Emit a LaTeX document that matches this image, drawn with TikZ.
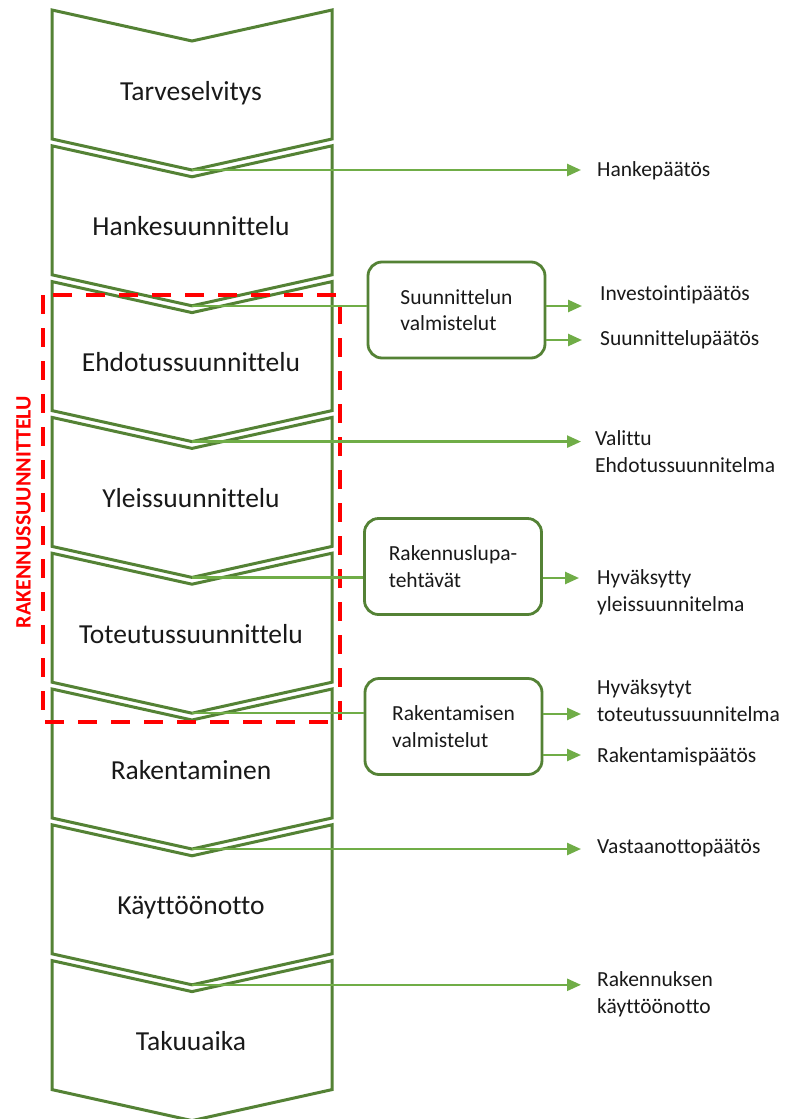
\documentclass[tikz,border=0pt]{standalone}
\usepackage{fontspec}
\setmainfont{Carlito}[Ligatures=NoCommon]
\usetikzlibrary{arrows.meta}
\definecolor{chev}{RGB}{84,130,53}
\definecolor{flow}{RGB}{112,173,71}
\definecolor{txt}{RGB}{25,25,25}
\definecolor{frame}{RGB}{255,0,0}

\begin{document}
\begin{tikzpicture}[x=1pt,y=-1pt,
  chevron/.style={draw=chev, line width=3pt, fill=white, line join=miter},
  phase/.style={font=\fontsize{27.5}{33}\selectfont, text=txt, anchor=base, inner sep=0pt},
  prep/.style={draw=chev, line width=2.8pt, rounded corners=14pt, minimum width=177pt,
    minimum height=96pt, align=left, font=\fontsize{21.5}{26.5}\selectfont, text=txt, fill=white},
  result/.style={font=\fontsize{21.5}{26.5}\selectfont, text=txt, anchor=base west,
    inner sep=0pt, align=left},
  link/.style={draw=flow, line width=2.5pt},
  arr/.style={link, -{Triangle[length=14pt,width=12pt]}},
]
\path[use as bounding box, fill=white] (0,0) rectangle (786,1119);

% the eight phases, stacked
\foreach \name/\t/\lab in {
  c1/10/Tarveselvitys,
  c2/145.8/Hankesuunnittelu,
  c3/281.6/Ehdotussuunnittelu,
  c4/417.4/Yleissuunnittelu,
  c5/553.2/Toteutussuunnittelu,
  c6/689/Rakentaminen,
  c7/824.8/Käyttöönotto,
  c8/960.6/Takuuaika} {
  \draw[chevron] (52,\t) -- (192,\t+31) -- (332,\t) -- (332,\t+129)
    -- (192,\t+160) -- (52,\t+129) -- cycle;
  \node[phase] (\name) at (191,\t+90) {\lab};
  \coordinate (\name-tip) at (192,\t+160);
}

% design stage frame
\draw[frame, line width=4.5pt, dash pattern=on 19pt off 14pt] (43,295) rectangle (340,722);
\node[rotate=90, text=frame, inner sep=0pt, font=\bfseries\fontsize{22}{26}\selectfont]
  (stage) at (23.5,512) {RAKENNUSSUUNNITTELU};

% preparation boxes
\node[prep] (b1) at (456.5,310) {Suunnittelun\\valmistelut};
\node[prep] (b2) at (453,566.5) {Rakennuslupa-\\tehtävät};
\node[prep] (b3) at (453.5,726.5) {Rakentamisen\\valmistelut};

% arrow tip column and box outputs
\coordinate (rim) at (581,0);
\coordinate (o1a) at (582,306);
\coordinate (o1b) at (582,340);
\coordinate (o2) at (579,578);
\coordinate (o3a) at (581,714);
\coordinate (o3b) at (581,755);

% decisions (multi-line labels sit on their last baseline)
\node[result] (r1) at (597,176) {Hankepäätös};
\node[result] (r2) at (600,300) {Investointipäätös};
\node[result] (r3) at (600,345) {Suunnittelupäätös};
\node[result] (r4) at (595,472) {Valittu\\Ehdotussuunnitelma};
\node[result] (r5) at (597,611) {Hyväksytty\\yleissuunnitelma};
\node[result] (r6) at (597,721) {Hyväksytyt\\toteutussuunnitelma};
\node[result] (r7) at (597,762) {Rakentamispäätös};
\node[result] (r8) at (597,853) {Vastaanottopäätös};
\node[result] (r9) at (597,1013) {Rakennuksen\\käyttöönotto};

% connectors
\draw[arr] (c1-tip) -- (c1-tip -| rim);
\draw[link] (c2-tip) -- (c2-tip -| b1.west);
\draw[arr] (c3-tip) -- (c3-tip -| rim);
\draw[link] (c4-tip) -- (c4-tip -| b2.west);
\draw[link] (c5-tip) -- (c5-tip -| b3.west);
\draw[arr] (c6-tip) -- (c6-tip -| rim);
\draw[arr] (c7-tip) -- (c7-tip -| rim);

\draw[arr] (b1.east |- o1a) -- (o1a);
\draw[arr] (b1.east |- o1b) -- (o1b);
\draw[arr] (b2.east |- o2) -- (o2);
\draw[arr] (b3.east |- o3a) -- (o3a);
\draw[arr] (b3.east |- o3b) -- (o3b);
\end{tikzpicture}
\end{document}
